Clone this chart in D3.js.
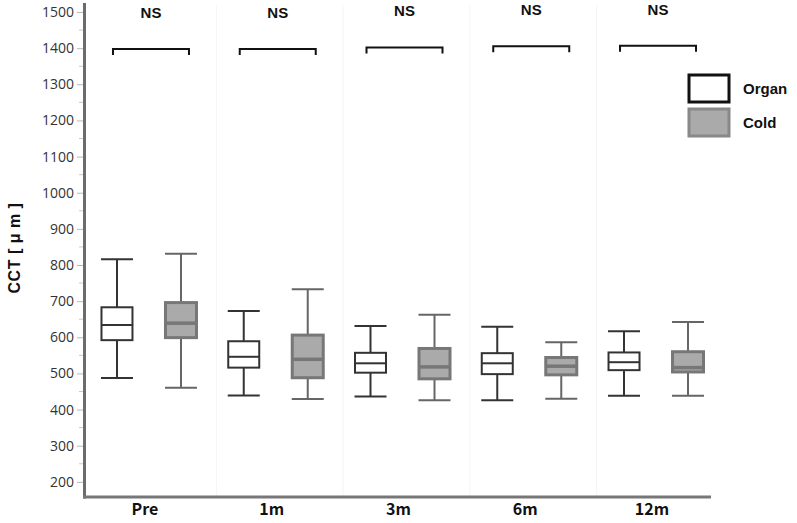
<!DOCTYPE html>
<html>
<head>
<meta charset="utf-8">
<script src="https://cdn.jsdelivr.net/npm/d3@7"></script>
<style>
  html, body { margin: 0; padding: 0; background: #fff; }
  svg { display: block; }
</style>
</head>
<body>
<svg id="chart" width="797" height="523"></svg>
<script>
// ---- data ----
const categories = ["Pre", "1m", "3m", "6m", "12m"];
const seriesNames = ["Organ", "Cold"];
// [lower whisker, Q1, median, Q3, upper whisker]
const organLow    = [487, 439, 436, 426, 438];
const organQ1     = [592, 516, 502, 498, 509];
const organMedian = [634, 546, 528, 528, 531];
const organQ3     = [683, 589, 557, 556, 558];
const organHigh   = [816, 673, 631, 629, 617];

const coldLow     = [460, 429, 426, 430, 438];
const coldQ1      = [599, 488, 485, 496, 504];
const coldMedian  = [639, 539, 518, 520, 516];
const coldQ3      = [696, 606, 569, 544, 560];
const coldHigh    = [831, 733, 662, 586, 642];

const sigLabels   = ["NS", "NS", "NS", "NS", "NS"];
const sigLevels   = [1398, 1398, 1402, 1405, 1407];
const yTicks      = [200, 300, 400, 500, 600, 700, 800, 900, 1000, 1100, 1200, 1300, 1400, 1500];

// ---- scales ----
const svg = d3.select("#chart");
const y = d3.scaleLinear().domain([158, 1525]).range([497, 3]);
const x = d3.scaleBand().domain(categories).range([85.6, 719.4]).padding(0);
const sub = d3.scalePoint().domain(seriesNames).range([-32, 32]);
const boxW = 31;

// faint separators
svg.append("g").selectAll("line")
  .data(categories.slice(1))
  .join("line")
  .attr("x1", d => x(d) + 4).attr("x2", d => x(d) + 4)
  .attr("y1", 5).attr("y2", 495)
  .attr("stroke", "#f4f4f4").attr("stroke-width", 1);

// ---- y axis ----
const minorTicks = d3.range(250, 1501, 100);
svg.append("g").selectAll("line.minor")
  .data(minorTicks).join("line")
  .attr("x1", 79).attr("x2", 83)
  .attr("y1", d => y(d)).attr("y2", d => y(d))
  .attr("stroke", "#c8c8c8").attr("stroke-width", 1);

const yAxis = d3.axisLeft(y).tickValues(yTicks).tickSize(6).tickPadding(3).tickFormat(d3.format("d"));
const gy = svg.append("g").attr("transform", "translate(83,0)").call(yAxis);
gy.select(".domain").remove();
gy.selectAll(".tick line").attr("stroke", "#b8b8b8").attr("stroke-width", 1);
gy.selectAll(".tick text")
  .attr("fill", "#333")
  .style("font-family", "'Open Sans', 'DejaVu Sans', sans-serif")
  .style("font-size", "14px");

svg.append("line")
  .attr("x1", 84.5).attr("x2", 84.5)
  .attr("y1", y(1525)).attr("y2", 498.5)
  .attr("stroke", "#6b6b6b").attr("stroke-width", 3);

// ---- x axis ----
svg.append("line")
  .attr("x1", 83).attr("x2", 711)
  .attr("y1", 497).attr("y2", 497)
  .attr("stroke", "#777").attr("stroke-width", 3);

const xAxis = d3.axisBottom(x).tickSize(0).tickPadding(0);
const gx = svg.append("g").attr("transform", "translate(-4,501)").call(xAxis);
gx.select(".domain").remove();
gx.selectAll(".tick text")
  .attr("fill", "#111")
  .attr("dy", "0.85em")
  .style("font-family", "'Noto Sans CJK JP', 'Noto Sans', sans-serif")
  .style("font-weight", "bold")
  .style("font-size", "16px");

// ---- y title ----
svg.append("text")
  .attr("transform", `translate(20,${y(847)}) rotate(-90)`)
  .attr("text-anchor", "middle")
  .style("font-family", "'Liberation Sans', Arial, sans-serif")
  .style("font-weight", "bold")
  .style("font-size", "16px")
  .style("letter-spacing", "0.5px")
  .attr("fill", "#111")
  .text("CCT [ μ m ]");

// ---- boxes ----
const styles = {
  Organ: { fill: "#ffffff", stroke: "#333333", sw: 2, whisker: "#333333", median: "#333333", msw: 2 },
  Cold:  { fill: "#aaaaaa", stroke: "#777777", sw: 3, whisker: "#666666", median: "#777777", msw: 3.5 }
};

const rows = [];
categories.forEach((c, i) => {
  rows.push({ cat: c, s: "Organ", lo: organLow[i], q1: organQ1[i], med: organMedian[i], q3: organQ3[i], hi: organHigh[i] });
  rows.push({ cat: c, s: "Cold", lo: coldLow[i], q1: coldQ1[i], med: coldMedian[i], q3: coldQ3[i], hi: coldHigh[i] });
});

const cx = d => x(d.cat) + x.bandwidth() / 2 + sub(d.s);

const g = svg.append("g").selectAll("g.box").data(rows).join("g");

// whisker stems
g.append("line")
  .attr("x1", cx).attr("x2", cx)
  .attr("y1", d => y(d.hi)).attr("y2", d => y(d.q3))
  .attr("stroke", d => styles[d.s].whisker).attr("stroke-width", 2);
g.append("line")
  .attr("x1", cx).attr("x2", cx)
  .attr("y1", d => y(d.q1)).attr("y2", d => y(d.lo))
  .attr("stroke", d => styles[d.s].whisker).attr("stroke-width", 2);
// caps
g.append("line")
  .attr("x1", d => cx(d) - 16).attr("x2", d => cx(d) + 16)
  .attr("y1", d => y(d.hi)).attr("y2", d => y(d.hi))
  .attr("stroke", d => styles[d.s].whisker).attr("stroke-width", 2);
g.append("line")
  .attr("x1", d => cx(d) - 16).attr("x2", d => cx(d) + 16)
  .attr("y1", d => y(d.lo)).attr("y2", d => y(d.lo))
  .attr("stroke", d => styles[d.s].whisker).attr("stroke-width", 2);
// box
g.append("rect")
  .attr("x", d => cx(d) - boxW / 2)
  .attr("width", boxW)
  .attr("y", d => y(d.q3))
  .attr("height", d => y(d.q1) - y(d.q3))
  .attr("fill", d => styles[d.s].fill)
  .attr("stroke", d => styles[d.s].stroke)
  .attr("stroke-width", d => styles[d.s].sw);
// median
g.append("line")
  .attr("x1", d => cx(d) - boxW / 2).attr("x2", d => cx(d) + boxW / 2)
  .attr("y1", d => y(d.med)).attr("y2", d => y(d.med))
  .attr("stroke", d => styles[d.s].median).attr("stroke-width", d => styles[d.s].msw);

// ---- significance brackets ----
const sig = categories.map((c, i) => ({ cat: c, label: sigLabels[i], v: sigLevels[i] }));
const gc = d => x(d.cat) + x.bandwidth() / 2 + 2;
const sg = svg.append("g").selectAll("g").data(sig).join("g");
sg.append("path")
  .attr("d", d => {
    const yy = y(d.v), l = gc(d) - 38, r = gc(d) + 38;
    return `M${l},${yy + 6}V${yy}H${r}V${yy + 6}`;
  })
  .attr("fill", "none").attr("stroke", "#111").attr("stroke-width", 2);
sg.append("text")
  .attr("x", gc)
  .attr("y", d => y(d.v) - 31)
  .attr("text-anchor", "middle")
  .style("font-family", "'Liberation Sans', Arial, sans-serif")
  .style("font-weight", "bold")
  .style("font-size", "15px")
  .attr("fill", "#111")
  .text(d => d.label);

// ---- legend ----
const lg = svg.append("g").attr("transform", "translate(689,75)");
const li = lg.selectAll("g").data(seriesNames).join("g")
  .attr("transform", (d, i) => `translate(0,${i * 34})`);
li.append("rect")
  .attr("width", 40).attr("height", 27)
  .attr("fill", d => styles[d].fill)
  .attr("stroke", d => d === "Organ" ? "#111" : "#888")
  .attr("stroke-width", 3);
li.append("text")
  .attr("x", 54).attr("y", 14).attr("dy", "0.35em")
  .style("font-family", "'Liberation Sans', Arial, sans-serif")
  .style("font-weight", "bold")
  .style("font-size", "15px")
  .attr("fill", "#111")
  .text(d => d);
</script>
</body>
</html>
